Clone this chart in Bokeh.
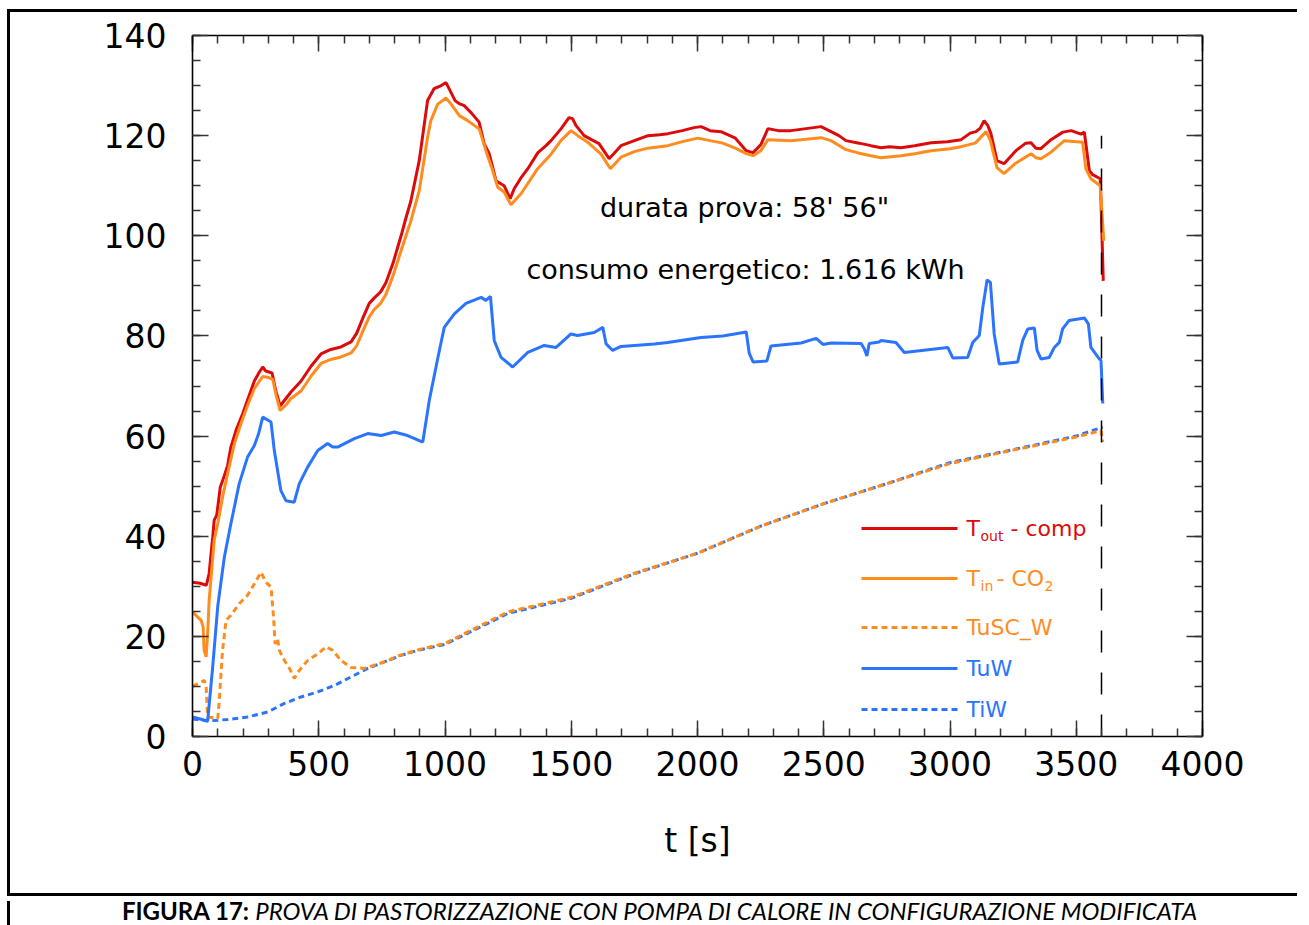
import numpy as np
from bokeh.plotting import figure
from bokeh.models import Label, SingleIntervalTicker, LinearAxis, Range1d, Div, CustomLabelingPolicy
from bokeh.layouts import column
from bokeh.embed import file_html
from bokeh.resources import INLINE

# ---------------- data ----------------
t_out_t = [0, 30, 55, 66, 80, 86, 96, 110, 126, 139, 152, 172, 199, 218, 245, 265, 278, 290, 315, 330, 347,
           370, 390, 430, 470, 509, 548, 588, 628, 650, 675, 700, 720, 745, 766, 794, 826, 845, 865, 898, 918,
           931, 957, 985, 1004, 1024, 1040, 1056, 1076, 1105, 1135, 1155, 1175, 1202, 1234, 1258, 1274, 1300,
           1328, 1368, 1400, 1420, 1460, 1491, 1505, 1519, 1551, 1580, 1610, 1650, 1670, 1697, 1750, 1804, 1850,
           1883, 1940, 1986, 2014, 2050, 2093, 2150, 2193, 2220, 2251, 2279, 2320, 2370, 2430, 2489, 2529, 2560,
           2588, 2640, 2687, 2727, 2760, 2806, 2860, 2925, 2990, 3044, 3080, 3103, 3120, 3135, 3150, 3162, 3186,
           3214, 3261, 3300, 3321, 3340, 3360, 3400, 3447, 3480, 3519, 3532, 3552, 3565, 3595, 3598, 3607]
t_out_T = [30.8, 30.6, 30.2, 32.6, 39.8, 43.2, 44.2, 49.8, 52.1, 54.1, 57.8, 61.1, 64.5, 67.2, 71.0, 72.8, 73.8,
           73.0, 72.6, 69.0, 66.0, 67.5, 68.8, 71.0, 74.0, 76.4, 77.3, 77.8, 78.8, 80.5, 83.6, 86.5, 87.6, 88.8,
           90.6, 94.5, 100.0, 103.5, 107.0, 115.0, 122.3, 127.0, 129.4, 130.0, 130.6, 128.6, 127.0, 126.4, 126.0,
           124.5, 122.7, 118.4, 116.4, 111.0, 110.0, 107.4, 109.4, 111.5, 113.4, 116.6, 118.0, 119.0, 121.4,
           123.6, 123.4, 122.0, 120.0, 119.2, 118.4, 115.4, 116.5, 118.0, 119.0, 120.0, 120.2, 120.4, 121.0,
           121.6, 121.8, 121.0, 120.8, 119.5, 117.0, 116.6, 118.2, 121.4, 121.0, 121.0, 121.4, 121.8, 120.8,
           120.0, 119.0, 118.5, 118.0, 117.6, 117.8, 117.6, 118.0, 118.6, 118.8, 119.2, 120.5, 120.8, 121.5,
           123.0, 122.0, 120.4, 115.0, 114.4, 117.0, 118.5, 118.6, 117.5, 117.4, 119.2, 120.7, 121.0, 120.3,
           120.7, 113.0, 112.2, 111.4, 107.0, 91.0]

t_in_t = [0, 34, 42, 46, 54, 60, 66, 86, 100, 119, 139, 166, 192, 218, 245, 278, 300, 318, 332, 347, 370, 390,
          430, 470, 509, 548, 588, 628, 650, 675, 700, 720, 745, 766, 794, 826, 865, 898, 931, 944, 971, 1004,
          1024, 1057, 1090, 1136, 1162, 1189, 1209, 1235, 1261, 1301, 1367, 1420, 1459, 1499, 1526, 1565, 1618,
          1655, 1697, 1750, 1803, 1882, 1940, 2001, 2050, 2100, 2150, 2193, 2220, 2251, 2279, 2370, 2430, 2489,
          2529, 2588, 2640, 2687, 2727, 2806, 2860, 2925, 3000, 3044, 3100, 3143, 3160, 3186, 3214, 3260, 3321,
          3340, 3360, 3400, 3453, 3525, 3538, 3558, 3595, 3609]
t_in_T = [24.9, 23.2, 21.9, 17.2, 15.9, 20.6, 27.2, 39.2, 42.5, 47.8, 52.5, 58.5, 62.5, 66.1, 69.5, 71.9, 71.7,
          71.3, 68.0, 65.1, 66.2, 67.5, 69.0, 72.0, 74.5, 75.3, 75.8, 76.6, 78.0, 81.0, 83.8, 85.3, 86.5, 88.3,
          92.0, 97.0, 103.0, 109.0, 119.7, 123.0, 126.3, 127.5, 126.3, 124.0, 123.0, 121.3, 117.0, 113.0, 109.7,
          108.7, 106.2, 108.4, 113.4, 116.3, 119.0, 121.0, 120.0, 118.7, 116.3, 113.4, 115.7, 116.8, 117.5,
          118.0, 118.8, 119.5, 119.0, 118.5, 117.5, 116.4, 116.0, 117.0, 119.2, 119.0, 119.3, 119.6, 119.0,
          117.2, 116.5, 116.0, 115.6, 116.0, 116.4, 117.0, 117.4, 117.8, 118.5, 120.8, 119.0, 113.6, 112.4,
          114.5, 116.4, 115.6, 115.4, 116.7, 119.0, 118.7, 113.4, 111.4, 110.0, 99.0]

tusc_t = [0, 34, 47, 54, 60, 100, 106, 119, 133, 152, 185, 218, 245, 271, 291, 311, 321, 327, 337, 344, 364,
          384, 403, 423, 456, 496, 529, 555, 588, 628, 680, 760, 826, 892, 1000, 1250, 1500, 1750, 2000, 2250,
          2500, 2750, 3000, 3250, 3500, 3598, 3605]
tusc_T = [10.0, 10.9, 11.2, 9.9, 3.9, 3.6, 7.2, 17.2, 23.2, 24.2, 26.5, 28.2, 30.5, 32.8, 30.8, 29.8, 23.9,
          18.5, 19.5, 17.2, 15.2, 13.6, 11.6, 13.2, 15.2, 16.5, 17.9, 17.2, 15.2, 13.8, 13.6, 14.9, 16.3, 17.3,
          18.6, 24.9, 27.8, 32.6, 36.6, 42.0, 46.5, 50.5, 54.5, 57.2, 59.8, 61.1, 58.8]

tuw_t = [0, 30, 60, 80, 100, 126, 152, 185, 218, 245, 262, 278, 311, 324, 350, 370, 403, 423, 456, 496, 535, 555,
         575, 641, 694, 747, 799, 852, 912, 925, 938, 972, 997, 1037, 1083, 1143, 1162, 1180, 1195, 1222, 1268,
         1328, 1393, 1440, 1499, 1525, 1591, 1625, 1638, 1664, 1697, 1829, 1882, 2014, 2100, 2193, 2205, 2220,
         2275, 2291, 2410, 2470, 2497, 2529, 2648, 2660, 2671, 2680, 2719, 2727, 2786, 2819, 2991, 3011, 3070,
         3090, 3116, 3130, 3147, 3160, 3175, 3195, 3268, 3288, 3308, 3334, 3345, 3360, 3393, 3413, 3433, 3446,
         3472, 3532, 3548, 3558, 3591, 3598, 3605]
tuw_T = [3.9, 3.5, 3.1, 13.9, 26.0, 35.8, 42.5, 50.5, 55.8, 58.1, 60.5, 63.8, 62.8, 57.1, 49.1, 47.1, 46.8, 50.5,
         53.8, 57.1, 58.5, 57.8, 57.8, 59.5, 60.5, 60.1, 60.8, 60.1, 58.8, 63.0, 67.2, 75.7, 81.7, 84.4, 86.5,
         87.7, 87.1, 87.9, 79.1, 75.7, 73.8, 76.7, 78.1, 77.7, 80.4, 80.1, 80.7, 81.7, 78.4, 77.1, 77.9, 78.4,
         78.7, 79.7, 80.0, 80.8, 76.5, 74.8, 75.0, 78.0, 78.6, 79.5, 78.3, 78.6, 78.5, 77.5, 76.0, 78.5, 78.8,
         79.1, 78.7, 76.7, 77.7, 75.6, 75.7, 78.7, 80.1, 85.7, 91.2, 90.7, 80.4, 74.4, 74.8, 79.1, 81.4, 81.6,
         77.1, 75.4, 75.7, 77.7, 78.7, 81.4, 83.1, 83.6, 82.4, 77.7, 75.4, 75.1, 66.5]

tiw_t = [0, 60, 139, 218, 298, 364, 430, 496, 562, 628, 694, 760, 826, 892, 1000, 1250, 1500, 1750, 2000, 2250,
         2500, 2750, 3000, 3250, 3500, 3605]
tiw_T = [3.5, 3.1, 3.4, 3.9, 4.9, 6.6, 7.9, 8.9, 10.2, 11.9, 13.6, 14.9, 16.2, 17.2, 18.4, 24.6, 27.6, 32.5,
         36.6, 42.0, 46.5, 50.5, 54.7, 57.3, 60.0, 61.8]

end_marker_t = [3600, 3600]
end_marker_T = [0, 120]

series_names = ["T_out - comp", "T_in - CO2", "TuSC_W", "TuW", "TiW"]
x_ticks_major = 500
y_ticks_major = 20
x_title = "t [s]"
y_title = "T [°C]"
note1 = "durata prova: 58' 56\""
note2 = "consumo energetico: 1.616 kWh"
caption_bold = "FIGURA 17:"
caption_italic = "PROVA DI PASTORIZZAZIONE CON POMPA DI CALORE IN CONFIGURAZIONE MODIFICATA"

# ---------------- styling ----------------
RED = "#dc0a0a"
ORANGE = "#ff8c1e"
BLUE = "#2a74ff"
FONT = "DejaVu Sans"

W, H = 1290, 887
ML, MR, MT, MB = 182, 98, 23, 163
X0, X1, Y0, Y1 = 0, 4000, 0, 140
OFF_L, OFF_T = 7, 9

p = figure(width=W, height=H, x_range=Range1d(X0, X1), y_range=Range1d(Y0, Y1),
           output_backend="svg", toolbar_location=None,
           min_border_left=ML, min_border_right=MR, min_border_top=MT, min_border_bottom=MB,
           x_axis_type=None, y_axis_type=None)
p.styles = {"border-top": "3px solid black", "border-left": "3px solid black",
            "border-bottom": "3px solid black",
            "margin-left": f"{OFF_L}px", "margin-top": f"{OFF_T}px"}
p.xgrid.visible = False
p.ygrid.visible = False
p.outline_line_color = None
p.background_fill_color = "white"
p.border_fill_color = "white"

hide_labels = CustomLabelingPolicy(code="for (const i of indices) { indices.unset(i) }\nreturn indices")


def make_axis(kind, show_labels, interval, minors):
    ax = LinearAxis(ticker=SingleIntervalTicker(interval=interval, num_minor_ticks=minors))
    ax.axis_line_color = "black"
    ax.axis_line_width = 1.6
    ax.major_tick_in = 16
    ax.major_tick_out = 0
    ax.minor_tick_in = 8
    ax.minor_tick_out = 0
    ax.major_tick_line_color = "#333333"
    ax.major_tick_line_width = 1.5
    ax.minor_tick_line_color = "#333333"
    ax.minor_tick_line_width = 1.5
    ax.major_label_text_font = FONT
    ax.major_label_text_color = "black"
    if show_labels:
        ax.major_label_text_font_size = "33px"
        ax.major_label_standoff = 26 if kind == "y" else 14
    else:
        ax.major_label_text_font_size = "8px"
        ax.major_label_policy = hide_labels
        ax.major_label_standoff = 0
    return ax


xa = make_axis("x", True, x_ticks_major, 5)
xa.axis_label = x_title
xa.axis_label_text_font = FONT
xa.axis_label_text_font_size = "33px"
xa.axis_label_text_font_style = "normal"
xa.axis_label_text_color = "black"
xa.axis_label_standoff = 42
p.add_layout(xa, "below")
p.add_layout(make_axis("x", False, x_ticks_major, 5), "above")
p.add_layout(make_axis("y", True, y_ticks_major, 4), "left")
p.add_layout(make_axis("y", False, y_ticks_major, 4), "right")

LW = 3
DOT = "6 4"
p.line(tiw_t, tiw_T, line_color=BLUE, line_width=LW, line_dash=DOT)
p.line(tusc_t, tusc_T, line_color=ORANGE, line_width=LW, line_dash=DOT)
p.line(tuw_t, tuw_T, line_color=BLUE, line_width=LW)
p.line(t_out_t, t_out_T, line_color=RED, line_width=LW)
p.line(t_in_t, t_in_T, line_color=ORANGE, line_width=LW)
p.line(end_marker_t, end_marker_T, line_color="black", line_width=1.5, line_dash="22 20")

# page-pixel -> data helpers (frame: left=192, right=1202, top=35, bottom=736 on the page)
PL, PR, PT, PB = 192.0, 1202.0, 35.0, 736.0


def dx(px):
    return X0 + (px - PL) / (PR - PL) * (X1 - X0)


def dy(py):
    return Y0 + (PB - py) / (PB - PT) * (Y1 - Y0)


def lab(px, py, text, size, color="black", align="left", baseline="middle", angle=0):
    p.add_layout(Label(x=dx(px), y=dy(py), text=text, text_font=FONT, text_font_size=f"{size}px",
                       text_color=color, text_align=align, text_baseline=baseline, angle=angle))


# y-axis title
lab(78, 332, y_title, 33, align="center", angle=np.pi / 2)

# notes
lab(744, 207, note1, 27, align="center")
lab(745, 269, note2, 27, align="center")

# legend
rows = [528, 578, 627, 668, 709]
cols = [RED, ORANGE, ORANGE, BLUE, BLUE]
dashes = ["solid", "solid", DOT, "solid", DOT]
for r, c, d in zip(rows, cols, dashes):
    p.line([dx(861), dx(957)], [dy(r), dy(r)], line_color=c, line_width=LW, line_dash=d)

lab(966, 528, "T", 22, RED)
lab(980, 535, "out", 14, RED)
lab(1010, 528, "- comp", 22, RED)
lab(966, 578, "T", 22, ORANGE)
lab(980, 585, "in", 14, ORANGE)
lab(996, 578, "- CO", 22, ORANGE)
lab(1044, 585, "2", 14, ORANGE)
lab(966, 627, series_names[2], 22, ORANGE)
lab(966, 668, series_names[3], 22, BLUE)
lab(966, 709, series_names[4], 22, BLUE)

cap = Div(text=f"<b>{caption_bold}</b> <i>{caption_italic}</i>", width=W, height=29,
          styles={"border-left": "3px solid black", "margin-left": f"{OFF_L}px",
                  "font-family": "Lato", "font-size": "24px", "padding-left": "12px",
                  "text-align": "center", "line-height": "20px", "color": "black"})

layout = column(p, cap, spacing=0)
open("out.html", "w").write(file_html(layout, INLINE))
